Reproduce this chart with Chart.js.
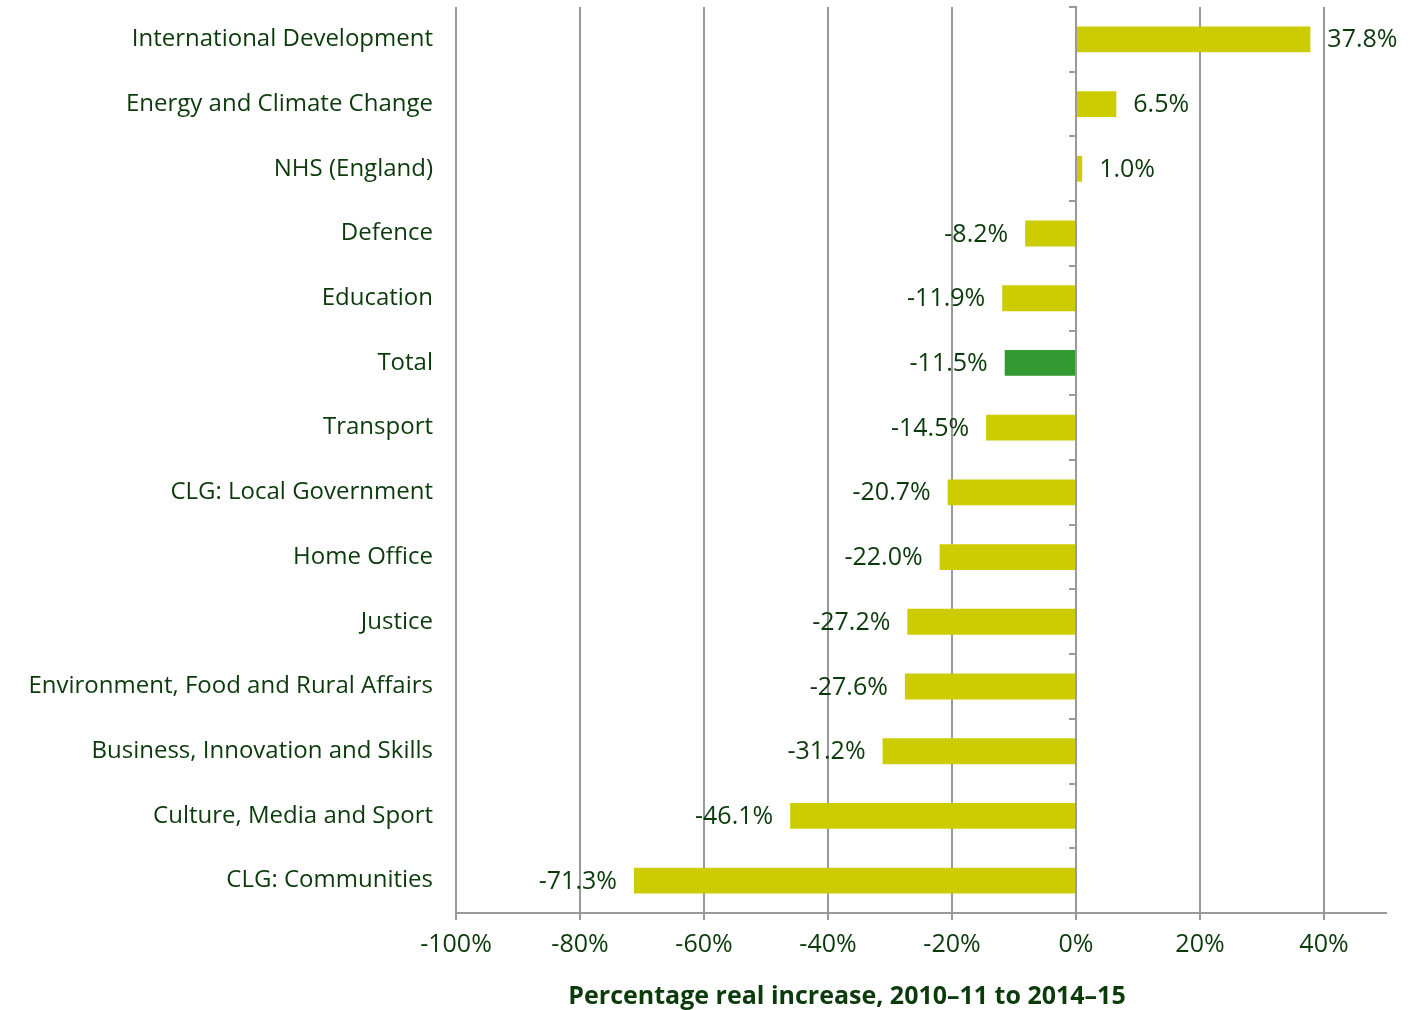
<!DOCTYPE html>
<html>
<head>
<meta charset="utf-8">
<script src="https://cdn.jsdelivr.net/npm/chart.js@4/dist/chart.umd.min.js"></script>
<style>
  html, body { margin: 0; padding: 0; background: #ffffff; }
  #wrap { width: 1413px; height: 1010px; }
</style>
</head>
<body>
<div id="wrap"><canvas id="c" width="1413" height="1010"></canvas></div>
<script>
const categories = [
  'International Development',
  'Energy and Climate Change',
  'NHS (England)',
  'Defence',
  'Education',
  'Total',
  'Transport',
  'CLG: Local Government',
  'Home Office',
  'Justice',
  'Environment, Food and Rural Affairs',
  'Business, Innovation and Skills',
  'Culture, Media and Sport',
  'CLG: Communities'
];
const values = [37.8, 6.5, 1.0, -8.2, -11.9, -11.5, -14.5, -20.7, -22.0, -27.2, -27.6, -31.2, -46.1, -71.3];
const highlightCategory = 'Total';
const xTickValues = [-100, -80, -60, -40, -20, 0, 20, 40];
const axisTitle = 'Percentage real increase, 2010\u201311 to 2014\u201315';

const FONT = "'Open Sans', 'Noto Sans', sans-serif";
const TEXT = '#0b3a0b';
const GRID = '#999999';
const BAR = '#cccc00';
const BAR_HI = '#339933';

const barColors = categories.map(c => c === highlightCategory ? BAR_HI : BAR);

const valueLabels = {
  id: 'valueLabels',
  afterDatasetsDraw(chart) {
    const ctx = chart.ctx;
    const meta = chart.getDatasetMeta(0);
    ctx.save();
    ctx.font = '25px ' + FONT;
    ctx.fillStyle = TEXT;
    ctx.textBaseline = 'middle';
    meta.data.forEach((bar, i) => {
      const v = values[i];
      const txt = v.toFixed(1) + '%';
      if (v >= 0) { ctx.textAlign = 'left'; ctx.fillText(txt, bar.x + 17, bar.y + 1); }
      else { ctx.textAlign = 'right'; ctx.fillText(txt, bar.x - 17, bar.y + 1); }
    });
    ctx.restore();
  }
};

const titlePlugin = {
  id: 'axisTitleDraw',
  afterDraw(chart) {
    const ctx = chart.ctx;
    ctx.save();
    ctx.font = 'bold 25px ' + FONT;
    ctx.fillStyle = TEXT;
    ctx.textAlign = 'center';
    ctx.textBaseline = 'middle';
    ctx.fillText(axisTitle, 847, 997);
    ctx.restore();
  }
};

function noVPad(scale) { scale.paddingTop = 0; scale.paddingBottom = 0; }

new Chart(document.getElementById('c'), {
  type: 'bar',
  data: {
    labels: categories,
    datasets: [{
      data: values,
      backgroundColor: barColors,
      borderWidth: 0,
      categoryPercentage: 1.0,
      barPercentage: 0.4
    }]
  },
  options: {
    indexAxis: 'y',
    responsive: false,
    animation: false,
    layout: { padding: { top: 7, right: 27, left: 0, bottom: 0 } },
    plugins: { legend: { display: false }, tooltip: { enabled: false } },
    scales: {
      x: {
        type: 'linear',
        min: -100,
        max: 50,
        afterBuildTicks(scale) { scale.ticks = xTickValues.map(v => ({ value: v })); },
        afterFit(scale) { scale.height = 97; scale.paddingLeft = 0; scale.paddingRight = 0; },
        grid: { color: GRID, lineWidth: 2, tickLength: 7, drawTicks: true },
        border: { display: true, color: GRID, width: 2 },
        ticks: {
          color: TEXT,
          font: { family: FONT, size: 25 },
          padding: 10,
          callback: v => v + '%'
        }
      },
      y: {
        type: 'category',
        position: 'left',
        offset: true,
        afterFit(scale) { scale.width = 456; noVPad(scale); },
        grid: { display: false },
        border: { display: false },
        ticks: { color: TEXT, font: { family: FONT, size: 24 }, padding: 15 }
      },
      y2: {
        type: 'category',
        labels: categories,
        position: { x: 0 },
        offset: true,
        afterFit(scale) { noVPad(scale); },
        grid: { offset: true, drawOnChartArea: false, drawTicks: true, tickLength: 6, color: GRID, lineWidth: 2 },
        border: { display: true, color: GRID, width: 2 },
        ticks: { display: false }
      }
    }
  },
  plugins: [valueLabels, titlePlugin]
});
</script>
</body>
</html>
